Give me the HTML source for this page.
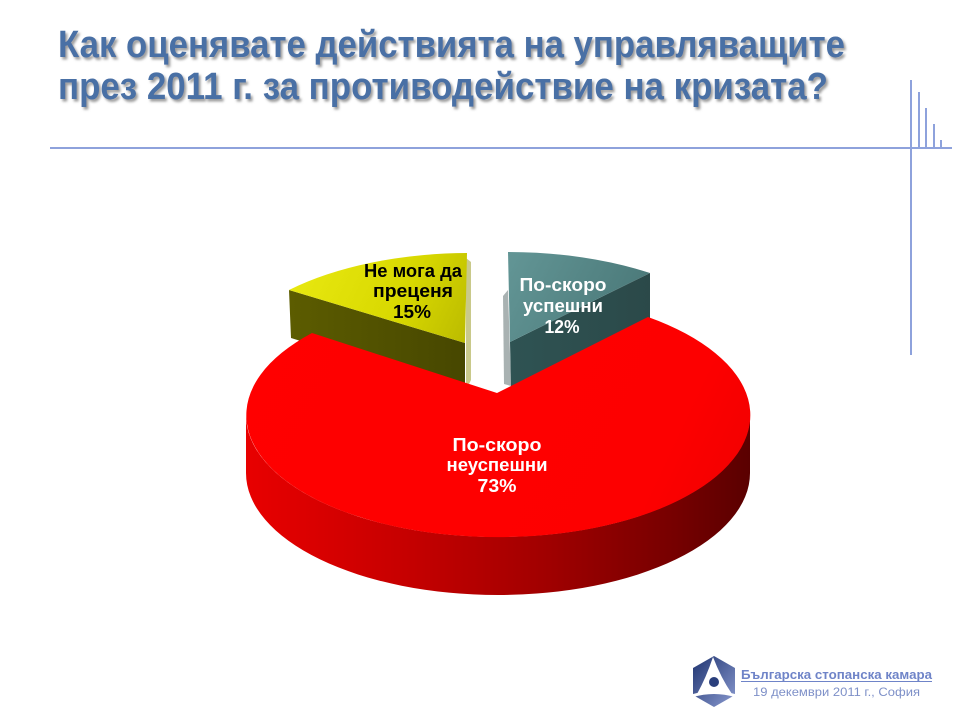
<!DOCTYPE html>
<html>
<head>
<meta charset="utf-8">
<style>
html,body{margin:0;padding:0;background:#fff;}
svg{display:block;}
</style>
</head>
<body>
<svg width="960" height="720" viewBox="0 0 960 720" xmlns="http://www.w3.org/2000/svg">
<defs>
  <filter id="tsh" x="-5%" y="-20%" width="110%" height="150%">
    <feDropShadow dx="2" dy="2.5" stdDeviation="1.3" flood-color="#7a7a7a" flood-opacity="0.75"/>
  </filter>
  <linearGradient id="redSide" gradientUnits="userSpaceOnUse" x1="246" y1="0" x2="750" y2="0">
    <stop offset="0" stop-color="#e80000"/>
    <stop offset="0.3" stop-color="#c80000"/>
    <stop offset="0.6" stop-color="#a00000"/>
    <stop offset="0.85" stop-color="#760000"/>
    <stop offset="1" stop-color="#5a0000"/>
  </linearGradient>
  <linearGradient id="redTop" gradientUnits="userSpaceOnUse" x1="246" y1="300" x2="750" y2="540">
    <stop offset="0" stop-color="#ff0000"/>
    <stop offset="0.8" stop-color="#fd0000"/>
    <stop offset="1" stop-color="#ee0000"/>
  </linearGradient>
  <linearGradient id="yelTop" gradientUnits="userSpaceOnUse" x1="300" y1="260" x2="465" y2="340">
    <stop offset="0" stop-color="#e8e810"/>
    <stop offset="0.6" stop-color="#d8d800"/>
    <stop offset="1" stop-color="#bcbc00"/>
  </linearGradient>
  <linearGradient id="olive" gradientUnits="userSpaceOnUse" x1="289" y1="0" x2="465" y2="0">
    <stop offset="0" stop-color="#5c5c00"/>
    <stop offset="1" stop-color="#474700"/>
  </linearGradient>
  <linearGradient id="tealTop" gradientUnits="userSpaceOnUse" x1="510" y1="255" x2="640" y2="320">
    <stop offset="0" stop-color="#629595"/>
    <stop offset="1" stop-color="#4a7878"/>
  </linearGradient>
  <linearGradient id="tealFace" gradientUnits="userSpaceOnUse" x1="510" y1="0" x2="650" y2="0">
    <stop offset="0" stop-color="#2f5353"/>
    <stop offset="1" stop-color="#2b4949"/>
  </linearGradient>
  <linearGradient id="logoG" x1="0" y1="0" x2="1" y2="1">
    <stop offset="0" stop-color="#1f3470"/>
    <stop offset="1" stop-color="#8a9ad0"/>
  </linearGradient>
</defs>

<!-- Title -->
<g filter="url(#tsh)" fill="#4a6fa5" font-family="'Liberation Sans Narrow','Liberation Sans',sans-serif" font-weight="bold" font-size="38">
  <text x="58" y="57" textLength="787" lengthAdjust="spacingAndGlyphs">Как оценявате действията на управляващите</text>
  <text x="58" y="99" textLength="770" lengthAdjust="spacingAndGlyphs">през 2011 г. за противодействие на кризата?</text>
</g>

<!-- Decorative lines -->
<g stroke="#8ea2dc" stroke-width="2" fill="none">
  <line x1="50" y1="148" x2="952" y2="148"/>
  <line x1="911" y1="80" x2="911" y2="355"/>
  <line x1="919" y1="92" x2="919" y2="149"/>
  <line x1="926" y1="108" x2="926" y2="149"/>
  <line x1="934" y1="124" x2="934" y2="149"/>
  <line x1="941" y1="140" x2="941" y2="149"/>
</g>

<!-- Yellow slice -->
<polygon points="289,290 465,343 465,392 291,338" fill="url(#olive)"/>
<polygon points="466,258 471,262 471,380 466,390" fill="#c9c98a"/>
<path d="M465 343 L289 290 A252 122 0 0 1 467 253 Z" fill="url(#yelTop)"/>

<!-- Teal slice -->
<polygon points="503,296 508,290 511,386 504,384" fill="#a9b2b2"/>
<polygon points="650,273 510,342 511,388 650,318" fill="url(#tealFace)"/>
<path d="M510 342 L508 252 A252 122 0 0 1 650 273 Z" fill="url(#tealTop)"/>

<!-- Red slice -->
<path d="M246 415 A252 122 0 0 0 750 415 L750 473 A252 122 0 0 1 246 473 Z" fill="url(#redSide)"/>
<path d="M497 393 L312 333 A252 122 0 1 0 648 317 Z" fill="url(#redTop)"/>

<!-- Labels -->
<g font-family="'Liberation Sans',sans-serif" font-weight="bold" font-size="18" text-anchor="middle">
  <g fill="#000">
    <text x="413" y="277" textLength="98" lengthAdjust="spacingAndGlyphs">Не мога да</text>
    <text x="413" y="297" textLength="80" lengthAdjust="spacingAndGlyphs">преценя</text>
    <text x="412" y="318" textLength="38" lengthAdjust="spacingAndGlyphs">15%</text>
  </g>
  <g fill="#fff">
    <text x="563" y="291" textLength="87" lengthAdjust="spacingAndGlyphs">По-скоро</text>
    <text x="563" y="312" textLength="80" lengthAdjust="spacingAndGlyphs">успешни</text>
    <text x="562" y="333" textLength="35" lengthAdjust="spacingAndGlyphs">12%</text>
    <text x="497" y="451" textLength="89" lengthAdjust="spacingAndGlyphs">По-скоро</text>
    <text x="497" y="471" textLength="101" lengthAdjust="spacingAndGlyphs">неуспешни</text>
    <text x="497" y="492" textLength="39" lengthAdjust="spacingAndGlyphs">73%</text>
  </g>
</g>

<!-- Logo -->
<g>
  <polygon points="714,656 735,668 735,695 714,707 693,695 693,668" fill="url(#logoG)"/>
  <path d="M713 657 Q706 678 697 694 Q714 689 732 694 Q721 678 713 657 Z" fill="#fff"/>
  <path d="M693 694 Q714 688 735 694 L735 697 Q714 691 693 697 Z" fill="#fff"/>
  <circle cx="714" cy="682" r="5" fill="#2a3f7c"/>
</g>

<!-- Footer text -->
<g font-family="'Liberation Sans',sans-serif" text-anchor="start">
  <text x="741" y="679" font-size="12.5" font-weight="bold" fill="#6f84c8" textLength="191" lengthAdjust="spacingAndGlyphs">Българска стопанска камара</text>
  <line x1="741" y1="681.5" x2="932" y2="681.5" stroke="#6f84c8" stroke-width="1"/>
  <text x="753" y="696" font-size="12" fill="#7e90c8" textLength="167" lengthAdjust="spacingAndGlyphs">19 декември 2011 г., София</text>
</g>
</svg>
</body>
</html>
